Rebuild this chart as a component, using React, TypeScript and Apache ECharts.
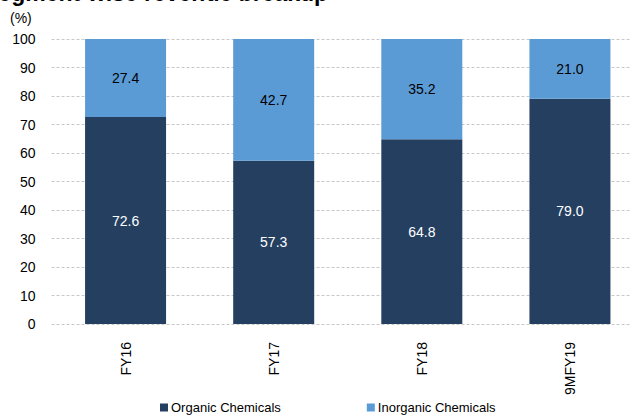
import React, { useEffect, useRef } from "react";
import * as echarts from "echarts";

const categories = ["FY16", "FY17", "FY18", "9MFY19"];
const organic = [72.6, 57.3, 64.8, 79.0];
const inorganic = [27.4, 42.7, 35.2, 21.0];
const yTicks = { min: 0, max: 100, interval: 10 };

const DARK = "#243F60";
const LIGHT = "#5B9BD5";
const FONT = "'Liberation Sans', Arial, sans-serif";

// The plot area runs past the right edge of the visible frame, so the
// chart canvas is wider than its clipping wrapper.
const CHART_W = 644;

export default function App() {
  const ref = useRef<HTMLDivElement>(null);

  useEffect(() => {
    if (!ref.current) return;
    const chart = echarts.init(ref.current, undefined, { renderer: "svg" });
    chart.setOption({
      animation: false,
      textStyle: { fontFamily: FONT },
      graphic: [
        {
          type: "text",
          left: -17,
          top: -19,
          style: {
            text: "Segment-wise revenue breakup",
            font: `bold 23px ${FONT}`,
            fill: "#000",
          },
        },
        {
          type: "text",
          left: 10,
          top: 11,
          style: { text: "(%)", font: `14px ${FONT}`, fill: "#000" },
        },
      ],
      legend: {
        bottom: -2,
        left: 155,
        itemWidth: 8,
        itemHeight: 8,
        itemGap: 86,
        icon: "rect",
        textStyle: { fontFamily: FONT, fontSize: 13, color: "#000", padding: [0, 0, 0, -2] },
        data: ["Organic Chemicals", "Inorganic Chemicals"],
      },
      grid: { left: 51.5, right: 0, top: 39, bottom: 93 },
      xAxis: {
        type: "category",
        data: categories,
        axisLine: { show: false },
        axisTick: { show: false },
        axisLabel: {
          rotate: 90,
          margin: 18,
          fontSize: 14,
          color: "#000",
          fontFamily: FONT,
        },
      },
      yAxis: {
        type: "value",
        min: yTicks.min,
        max: yTicks.max,
        interval: yTicks.interval,
        axisLine: { show: false },
        axisTick: { show: false },
        axisLabel: { fontSize: 14, color: "#000", margin: 16, fontFamily: FONT },
        splitLine: { lineStyle: { color: "#C8C8C8", type: [3, 2], width: 1 } },
      },
      series: [
        {
          name: "Organic Chemicals",
          type: "bar",
          stack: "total",
          barWidth: 81,
          data: organic,
          itemStyle: { color: DARK },
          label: {
            show: true,
            position: "inside",
            color: "#fff",
            fontSize: 14,
            fontFamily: FONT,
            formatter: (p: any) => Number(p.value).toFixed(1),
          },
        },
        {
          name: "Inorganic Chemicals",
          type: "bar",
          stack: "total",
          barWidth: 81,
          data: inorganic,
          itemStyle: { color: LIGHT },
          label: {
            show: true,
            position: "inside",
            color: "#000",
            fontSize: 14,
            fontFamily: FONT,
            formatter: (p: any) => Number(p.value).toFixed(1),
          },
        },
      ],
    });
    return () => chart.dispose();
  }, []);

  return (
    <div
      style={{
        position: "absolute",
        left: 0,
        top: 0,
        width: 630,
        height: 417,
        overflow: "hidden",
        background: "#fff",
      }}
    >
      <div ref={ref} style={{ width: CHART_W, height: 417 }} />
    </div>
  );
}
